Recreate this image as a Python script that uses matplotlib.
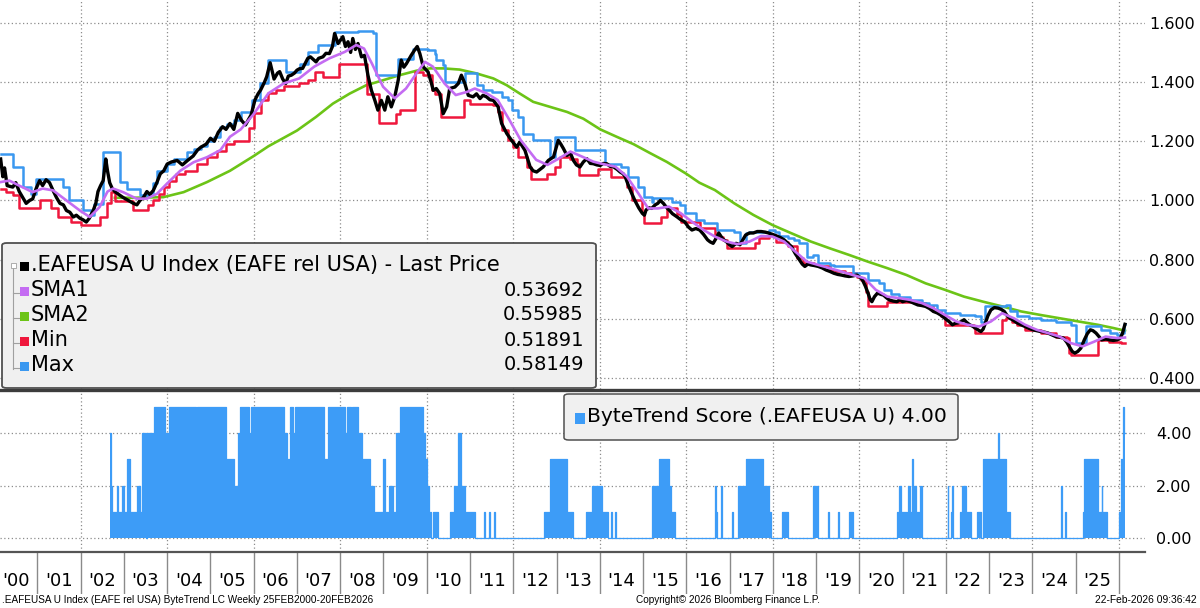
import matplotlib
matplotlib.use("Agg")
import matplotlib.pyplot as plt
from matplotlib.lines import Line2D
from matplotlib.patches import FancyBboxPatch, Rectangle

plt.rcParams['font.family'] = ['DejaVu Sans']

# ---------------- data (x = decimal year) ----------------
price_years = [2000.15, 2000.2, 2000.24, 2000.3, 2000.43, 2000.5, 2000.58, 2000.66, 2000.74, 2000.82,
    2000.89, 2000.97, 2001.05, 2001.12, 2001.2, 2001.28, 2001.36, 2001.44, 2001.52, 2001.6,
    2001.67, 2001.75, 2001.83, 2001.9, 2001.98, 2002.05, 2002.13, 2002.2, 2002.29, 2002.35,
    2002.4, 2002.46, 2002.52, 2002.58, 2002.62, 2002.67, 2002.73, 2002.79, 2002.88, 2002.98,
    2003.1, 2003.22, 2003.3, 2003.37, 2003.45, 2003.53, 2003.6, 2003.68, 2003.76, 2003.84,
    2003.92, 2004.0, 2004.1, 2004.23, 2004.35, 2004.47, 2004.6, 2004.7, 2004.78, 2004.9,
    2005.0, 2005.09, 2005.18, 2005.28, 2005.36, 2005.45, 2005.54, 2005.63, 2005.72, 2005.81,
    2005.94, 2006.03, 2006.1, 2006.16, 2006.25, 2006.3, 2006.38, 2006.42, 2006.47, 2006.55,
    2006.6, 2006.67, 2006.74, 2006.8, 2006.87, 2006.94, 2007.0, 2007.06, 2007.13, 2007.25,
    2007.31, 2007.44, 2007.5, 2007.6, 2007.67, 2007.75, 2007.82, 2007.87, 2007.95, 2008.06,
    2008.12, 2008.18, 2008.24, 2008.29, 2008.35, 2008.41, 2008.49, 2008.56, 2008.64, 2008.72,
    2008.8, 2008.87, 2008.95, 2009.03, 2009.1, 2009.18, 2009.26, 2009.34, 2009.41, 2009.47,
    2009.53, 2009.64, 2009.72, 2009.78, 2009.84, 2009.92, 2010.03, 2010.1, 2010.15, 2010.22,
    2010.3, 2010.38, 2010.46, 2010.53, 2010.65, 2010.73, 2010.8, 2010.88, 2010.96, 2011.07,
    2011.15, 2011.23, 2011.3, 2011.38, 2011.46, 2011.54, 2011.65, 2011.73, 2011.85, 2011.96,
    2012.08, 2012.15, 2012.27, 2012.39, 2012.46, 2012.54, 2012.62, 2012.69, 2012.81, 2012.93,
    2013.04, 2013.1, 2013.16, 2013.24, 2013.32, 2013.39, 2013.46, 2013.54, 2013.62, 2013.7,
    2013.78, 2013.85, 2013.93, 2014.01, 2014.08, 2014.16, 2014.24, 2014.32, 2014.4, 2014.47,
    2014.54, 2014.59, 2014.67, 2014.74, 2014.81, 2014.9, 2014.98, 2015.03, 2015.07, 2015.14,
    2015.2, 2015.28, 2015.34, 2015.4, 2015.47, 2015.55, 2015.6, 2015.68, 2015.78, 2015.87,
    2015.96, 2016.05, 2016.13, 2016.22, 2016.31, 2016.4, 2016.49, 2016.55, 2016.62, 2016.7,
    2016.75, 2016.84, 2016.93, 2017.0, 2017.06, 2017.15, 2017.24, 2017.3, 2017.37, 2017.46,
    2017.55, 2017.64, 2017.73, 2017.82, 2017.9, 2018.0, 2018.08, 2018.17, 2018.26, 2018.35,
    2018.43, 2018.52, 2018.61, 2018.68, 2018.74, 2018.81, 2018.88, 2018.96, 2019.05, 2019.14,
    2019.23, 2019.32, 2019.41, 2019.5, 2019.58, 2019.67, 2019.76, 2019.85, 2019.94, 2020.0,
    2020.07, 2020.14, 2020.2, 2020.25, 2020.29, 2020.35, 2020.42, 2020.49, 2020.56, 2020.62,
    2020.69, 2020.78, 2020.87, 2020.94, 2021.0, 2021.09, 2021.18, 2021.27, 2021.35, 2021.44,
    2021.53, 2021.62, 2021.71, 2021.8, 2021.88, 2021.95, 2022.02, 2022.08, 2022.15, 2022.22,
    2022.28, 2022.35, 2022.42, 2022.48, 2022.55, 2022.62, 2022.68, 2022.75, 2022.81, 2022.86,
    2022.9, 2022.97, 2023.04, 2023.12, 2023.21, 2023.28, 2023.35, 2023.42, 2023.48, 2023.56,
    2023.65, 2023.74, 2023.83, 2023.92, 2024.01, 2024.1, 2024.19, 2024.28, 2024.36, 2024.45,
    2024.54, 2024.63, 2024.72, 2024.8, 2024.85, 2024.92, 2024.98, 2025.05, 2025.12, 2025.2,
    2025.27, 2025.34, 2025.4, 2025.47, 2025.54, 2025.6, 2025.7, 2025.78, 2025.87, 2025.96,
    2026.03, 2026.08, 2026.14]
price_vals = [1.14, 1.08, 1.11, 1.05, 1.045, 1.06, 1.03, 1.01, 0.99, 1.0,
    1.005, 1.04, 1.067, 1.05, 1.07, 1.06, 1.034, 1.01, 0.99, 0.985,
    0.966, 0.96, 0.944, 0.95, 0.94, 0.935, 0.927, 0.94, 0.966, 0.99,
    1.03, 1.05, 1.067, 1.14, 1.10, 1.06, 1.04, 1.03, 1.02, 1.01,
    1.0, 0.99, 0.985, 1.0, 1.01, 1.03, 1.02, 1.034, 1.06, 1.09,
    1.10, 1.123, 1.13, 1.135, 1.12, 1.135, 1.15, 1.17, 1.18, 1.19,
    1.21, 1.2, 1.23, 1.249, 1.24, 1.26, 1.24, 1.294, 1.27, 1.255,
    1.289, 1.34, 1.36, 1.373, 1.40, 1.418, 1.465, 1.44, 1.41, 1.43,
    1.435, 1.41, 1.395, 1.42, 1.423, 1.43, 1.44, 1.445, 1.446, 1.48,
    1.485, 1.468, 1.48, 1.485, 1.497, 1.496, 1.52, 1.564, 1.53, 1.553,
    1.52, 1.536, 1.50, 1.547, 1.51, 1.53, 1.485, 1.49, 1.423, 1.372,
    1.338, 1.305, 1.338, 1.305, 1.35, 1.316, 1.35, 1.406, 1.474, 1.45,
    1.462, 1.49, 1.508, 1.52, 1.496, 1.451, 1.434, 1.40, 1.372, 1.378,
    1.361, 1.293, 1.316, 1.378, 1.383, 1.395, 1.423, 1.395, 1.355, 1.35,
    1.36, 1.344, 1.355, 1.35, 1.34, 1.338, 1.316, 1.26, 1.226, 1.203,
    1.18, 1.197, 1.169, 1.113, 1.10, 1.096, 1.105, 1.113, 1.135, 1.147,
    1.203, 1.19, 1.175, 1.152, 1.16, 1.135, 1.12, 1.113, 1.13, 1.141,
    1.125, 1.124, 1.12, 1.118, 1.125, 1.124, 1.115, 1.113, 1.105, 1.096,
    1.09, 1.079, 1.047, 1.023, 1.0, 0.975, 0.957, 0.95, 0.968, 0.975,
    0.973, 0.985, 0.99, 1.0, 0.99, 0.975, 0.968, 0.955, 0.945, 0.935,
    0.928, 0.91, 0.9, 0.905, 0.9, 0.885, 0.867, 0.86, 0.855, 0.875,
    0.89, 0.87, 0.86, 0.85, 0.844, 0.855, 0.85, 0.865, 0.883, 0.89,
    0.89, 0.895, 0.895, 0.893, 0.89, 0.885, 0.88, 0.875, 0.867, 0.855,
    0.844, 0.82, 0.8, 0.785, 0.777, 0.785, 0.782, 0.78, 0.777, 0.772,
    0.765, 0.76, 0.754, 0.75, 0.748, 0.745, 0.743, 0.745, 0.748, 0.742,
    0.732, 0.71, 0.687, 0.665, 0.658, 0.675, 0.687, 0.683, 0.68, 0.672,
    0.664, 0.66, 0.658, 0.665, 0.658, 0.662, 0.658, 0.652, 0.647, 0.645,
    0.642, 0.635, 0.625, 0.62, 0.613, 0.605, 0.597, 0.59, 0.58, 0.585,
    0.586, 0.59, 0.597, 0.588, 0.58, 0.575, 0.569, 0.562, 0.557, 0.565,
    0.58, 0.61, 0.63, 0.638, 0.636, 0.632, 0.625, 0.61, 0.602, 0.595,
    0.586, 0.58, 0.574, 0.568, 0.563, 0.56, 0.557, 0.555, 0.552, 0.546,
    0.54, 0.538, 0.535, 0.52, 0.507, 0.49, 0.484, 0.49, 0.501, 0.529,
    0.55, 0.563, 0.56, 0.552, 0.54, 0.529, 0.532, 0.529, 0.527, 0.529,
    0.535, 0.55, 0.5815]

sma1_years = [2000.15, 2000.35, 2000.58, 2000.89, 2001.12, 2001.36, 2001.67, 2001.98, 2002.21, 2002.44,
    2002.62, 2002.75, 2002.98, 2003.29, 2003.53, 2003.76, 2003.99, 2004.3, 2004.61, 2004.92,
    2005.23, 2005.45, 2005.7, 2005.99, 2006.34, 2006.69, 2007.05, 2007.4, 2007.75, 2008.11,
    2008.37, 2008.55, 2008.73, 2008.99, 2009.26, 2009.52, 2009.79, 2009.96, 2010.14, 2010.41,
    2010.67, 2010.94, 2011.11, 2011.38, 2011.64, 2011.91, 2012.17, 2012.53, 2012.79, 2013.06,
    2013.32, 2013.59, 2013.85, 2014.01, 2014.36, 2014.63, 2014.89, 2015.12, 2015.34, 2015.6,
    2015.87, 2016.13, 2016.4, 2016.66, 2016.93, 2017.19, 2017.46, 2017.73, 2017.99, 2018.26,
    2018.52, 2018.79, 2019.05, 2019.32, 2019.58, 2019.85, 2020.12, 2020.38, 2020.65, 2020.92,
    2021.18, 2021.45, 2021.71, 2021.98, 2022.24, 2022.5, 2022.77, 2023.04, 2023.3, 2023.57,
    2023.83, 2024.1, 2024.36, 2024.63, 2024.89, 2025.16, 2025.43, 2025.69, 2025.96, 2026.14]
sma1_vals = [1.062, 1.067, 1.05, 1.028, 1.04, 1.034, 1.0, 0.966, 0.944, 0.978,
    1.03, 1.04, 1.028, 1.006, 1.006, 1.022, 1.056, 1.1, 1.129, 1.146,
    1.17, 1.215, 1.24, 1.29, 1.362, 1.395, 1.412, 1.452, 1.48, 1.502,
    1.525, 1.513, 1.463, 1.384, 1.345, 1.378, 1.435, 1.468, 1.452, 1.395,
    1.356, 1.367, 1.378, 1.362, 1.339, 1.272, 1.204, 1.137, 1.12, 1.142,
    1.165, 1.148, 1.131, 1.125, 1.114, 1.08, 1.024, 0.973, 0.973, 0.979,
    0.957, 0.928, 0.9, 0.878, 0.861, 0.852, 0.861, 0.88, 0.878, 0.861,
    0.827, 0.793, 0.782, 0.771, 0.76, 0.748, 0.737, 0.698, 0.675, 0.67,
    0.664, 0.653, 0.636, 0.613, 0.591, 0.58, 0.574, 0.591, 0.619, 0.602,
    0.58, 0.563, 0.552, 0.54, 0.518, 0.507, 0.523, 0.54, 0.535, 0.53692]

sma2_years = [2002.79, 2003.22, 2003.91, 2004.38, 2004.92, 2005.45, 2006.0, 2006.34, 2007.0, 2007.44,
    2007.83, 2008.22, 2008.6, 2008.99, 2009.37, 2009.76, 2010.07, 2010.38, 2010.76, 2011.15,
    2011.54, 2011.85, 2012.15, 2012.46, 2012.85, 2013.24, 2013.62, 2014.01, 2014.39, 2014.78,
    2015.16, 2015.55, 2016.0, 2016.3, 2016.66, 2017.11, 2017.55, 2017.99, 2018.43, 2018.88,
    2019.32, 2019.76, 2020.2, 2020.65, 2021.09, 2021.53, 2021.98, 2022.42, 2022.86, 2023.3,
    2023.74, 2024.19, 2024.63, 2025.07, 2025.51, 2025.87, 2026.14]
sma2_vals = [1.009, 1.009, 1.011, 1.028, 1.062, 1.10, 1.15, 1.183, 1.236, 1.282,
    1.327, 1.361, 1.389, 1.406, 1.423, 1.438, 1.446, 1.446, 1.442, 1.429,
    1.412, 1.389, 1.361, 1.333, 1.316, 1.299, 1.276, 1.24, 1.215, 1.19,
    1.16, 1.13, 1.09, 1.06, 1.035, 0.99, 0.951, 0.917, 0.889, 0.861,
    0.838, 0.816, 0.793, 0.771, 0.748, 0.72, 0.698, 0.675, 0.658, 0.642,
    0.625, 0.613, 0.602, 0.591, 0.58, 0.569, 0.55985]

min_years = [2000.15, 2000.28, 2000.43, 2000.58, 2001.05, 2001.32, 2001.47, 2001.78, 2002.0, 2002.45,
    2002.6, 2002.7, 2002.8, 2003.22, 2003.55, 2003.68, 2003.8, 2003.92, 2004.05, 2004.2,
    2004.4, 2004.7, 2004.92, 2005.15, 2005.35, 2005.55, 2005.9, 2006.0, 2006.16, 2006.34,
    2006.52, 2006.69, 2007.05, 2007.25, 2007.41, 2007.6, 2007.98, 2008.62, 2008.9, 2009.3,
    2009.37, 2009.72, 2009.92, 2010.11, 2010.2, 2010.34, 2010.86, 2011.0, 2011.54, 2011.65,
    2011.73, 2011.88, 2012.0, 2012.12, 2012.31, 2012.42, 2012.79, 2012.97, 2013.08, 2013.3,
    2013.47, 2013.51, 2013.95, 2014.26, 2014.62, 2014.75, 2014.98, 2015.03, 2015.42, 2015.56,
    2015.78, 2015.87, 2016.31, 2016.66, 2016.84, 2016.93, 2017.59, 2017.68, 2017.9, 2018.08,
    2018.35, 2018.57, 2018.7, 2018.96, 2019.05, 2019.32, 2019.45, 2019.67, 2019.94, 2020.03,
    2020.16, 2020.2, 2020.65, 2021.27, 2021.53, 2021.71, 2021.88, 2021.97, 2022.64, 2022.68,
    2023.3, 2023.39, 2023.52, 2023.65, 2023.83, 2024.19, 2024.54, 2024.81, 2024.85, 2024.89,
    2025.51, 2025.78, 2026.04, 2026.14]
min_vals = [1.04, 1.03, 1.018, 0.975, 1.0, 0.975, 0.944, 0.927, 0.916, 0.944,
    0.99, 1.028, 0.998, 0.966, 0.984, 1.0, 1.022, 1.045, 1.067, 1.09,
    1.1, 1.123, 1.146, 1.168, 1.19, 1.2, 1.243, 1.294, 1.34, 1.362,
    1.373, 1.387, 1.395, 1.406, 1.434, 1.417, 1.462, 1.361, 1.26, 1.293,
    1.305, 1.434, 1.423, 1.372, 1.361, 1.282, 1.338, 1.327, 1.322, 1.30,
    1.237, 1.203, 1.181, 1.147, 1.113, 1.073, 1.09, 1.113, 1.147, 1.141,
    1.124, 1.085, 1.107, 1.079, 1.045, 1.0, 0.957, 0.923, 0.945, 0.973,
    0.955, 0.928, 0.906, 0.878, 0.867, 0.838, 0.855, 0.872, 0.883, 0.86,
    0.845, 0.805, 0.788, 0.782, 0.777, 0.765, 0.76, 0.754, 0.743, 0.732,
    0.69, 0.642, 0.658, 0.653, 0.642, 0.625, 0.608, 0.58, 0.569, 0.552,
    0.597, 0.603, 0.591, 0.58, 0.563, 0.552, 0.54, 0.535, 0.484, 0.478,
    0.529, 0.523, 0.51891, 0.51891]

max_years = [2000.15, 2000.43, 2000.66, 2000.85, 2000.97, 2001.59, 2001.74, 2002.05, 2002.25, 2002.3,
    2002.52, 2002.91, 2003.06, 2003.37, 2003.68, 2003.76, 2003.99, 2004.15, 2004.46, 2004.61,
    2004.77, 2004.92, 2005.08, 2005.23, 2005.39, 2005.54, 2005.7, 2005.95, 2006.15, 2006.34,
    2006.74, 2007.06, 2007.25, 2007.48, 2007.87, 2008.41, 2008.76, 2008.83, 2009.34, 2009.68,
    2010.03, 2010.19, 2010.22, 2010.38, 2010.42, 2010.88, 2011.15, 2011.3, 2011.5, 2011.73,
    2011.88, 2011.96, 2012.12, 2012.23, 2012.46, 2012.85, 2012.97, 2013.43, 2014.12, 2014.5,
    2014.65, 2014.89, 2015.02, 2015.2, 2015.24, 2015.67, 2015.85, 2015.98, 2016.22, 2016.4,
    2016.71, 2017.1, 2017.24, 2017.37, 2017.46, 2017.9, 2018.05, 2018.15, 2018.35, 2018.49,
    2018.61, 2018.79, 2018.92, 2019.05, 2019.32, 2019.41, 2019.85, 2020.2, 2020.45, 2020.56,
    2020.74, 2020.91, 2021.18, 2021.45, 2021.62, 2021.8, 2021.97, 2022.33, 2022.68, 2022.81,
    2022.9, 2023.39, 2023.48, 2023.65, 2023.92, 2024.19, 2024.54, 2024.9, 2025.0, 2025.15,
    2025.25, 2025.58, 2025.8, 2025.95, 2026.05, 2026.12, 2026.14]
max_vals = [1.157, 1.112, 1.045, 1.022, 1.073, 1.045, 1.0, 0.966, 0.95, 0.989,
    1.163, 1.062, 1.039, 1.017, 1.06, 1.101, 1.124, 1.14, 1.163, 1.174,
    1.185, 1.202, 1.213, 1.247, 1.258, 1.27, 1.30, 1.34, 1.395, 1.476,
    1.435, 1.462, 1.502, 1.524, 1.57, 1.573, 1.564, 1.423, 1.479, 1.513,
    1.508, 1.496, 1.474, 1.457, 1.4, 1.429, 1.389, 1.372, 1.367, 1.35,
    1.338, 1.305, 1.282, 1.226, 1.203, 1.147, 1.214, 1.169, 1.124, 1.113,
    1.079, 1.047, 1.013, 0.996, 1.007, 0.996, 0.985, 0.957, 0.934, 0.923,
    0.9, 0.893, 0.855, 0.889, 0.895, 0.9, 0.895, 0.88, 0.872, 0.866,
    0.855, 0.81, 0.815, 0.788, 0.782, 0.777, 0.754, 0.732, 0.72, 0.698,
    0.684, 0.675, 0.664, 0.653, 0.647, 0.63, 0.619, 0.613, 0.608, 0.591,
    0.642, 0.647, 0.625, 0.608, 0.602, 0.597, 0.591, 0.58, 0.518, 0.52,
    0.575, 0.563, 0.552, 0.546, 0.552, 0.58149, 0.58149]

score_years = [2002.67, 2002.7, 2002.73, 2002.83, 2002.87, 2002.96, 2003.0, 2003.06, 2003.14, 2003.3,
    2003.36, 2003.42, 2003.51, 2003.54, 2003.69, 2003.95, 2004.04, 2004.66, 2004.7, 2005.37,
    2005.54, 2005.63, 2005.68, 2005.9, 2005.94, 2006.69, 2006.78, 2006.85, 2006.91, 2006.96,
    2007.62, 2007.71, 2008.11, 2008.15, 2008.24, 2008.28, 2008.42, 2008.51, 2008.68, 2008.77,
    2008.99, 2009.04, 2009.12, 2009.21, 2009.3, 2009.39, 2009.92, 2009.96, 2010.01, 2010.05,
    2010.1, 2010.14, 2010.27, 2010.54, 2010.63, 2010.72, 2010.8, 2010.89, 2011.11, 2011.33,
    2011.35, 2011.45, 2011.47, 2011.56, 2011.58, 2012.7, 2012.84, 2013.24, 2013.37, 2013.68,
    2013.81, 2014.05, 2014.19, 2014.27, 2014.29, 2014.36, 2014.38, 2015.2, 2015.38, 2015.6,
    2015.65, 2015.73, 2016.66, 2016.68, 2016.71, 2016.8, 2016.82, 2017.06, 2017.08, 2017.19,
    2017.37, 2017.77, 2017.9, 2017.95, 2018.21, 2018.35, 2018.92, 2019.05, 2019.27, 2019.29,
    2019.5, 2019.52, 2019.76, 2019.85, 2020.87, 2020.91, 2020.96, 2021.09, 2021.13, 2021.18,
    2021.22, 2021.24, 2021.31, 2021.4, 2021.44, 2022.04, 2022.06, 2022.11, 2022.15, 2022.17,
    2022.33, 2022.37, 2022.46, 2022.59, 2022.73, 2022.81, 2022.86, 2023.21, 2023.23, 2023.39,
    2023.48, 2024.67, 2024.69, 2024.76, 2024.78, 2025.16, 2025.2, 2025.51, 2025.6, 2025.62,
    2025.73, 2026.0, 2026.04, 2026.1, 2026.12, 2026.14]
score_vals = [4, 2, 1, 2, 1, 2, 1, 3, 1, 2,
    1, 4, 0, 4, 5, 4, 5, 4, 5, 3,
    2, 4, 5, 4, 5, 4, 3, 5, 4, 5,
    3, 5, 4, 5, 3, 5, 4, 3, 2, 1,
    3, 1, 2, 1, 4, 5, 4, 3, 2, 1,
    0, 1, 0, 1, 2, 4, 2, 1, 0, 1,
    0, 1, 0, 1, 0, 1, 3, 1, 0, 1,
    2, 1, 0, 1, 0, 1, 0, 2, 3, 2,
    1, 0, 2, 1, 0, 2, 0, 1, 0, 2,
    3, 2, 1, 0, 1, 0, 2, 0, 1, 0,
    1, 0, 1, 0, 1, 2, 1, 0, 2, 1,
    3, 2, 1, 2, 0, 2, 0, 1, 2, 0,
    1, 2, 1, 0, 1, 0, 3, 4, 3, 1,
    0, 2, 0, 1, 0, 1, 3, 1, 2, 1,
    0, 1, 3, 5, 4, 4]

year_labels = ["'00", "'01", "'02", "'03", "'04", "'05", "'06", "'07", "'08", "'09", "'10", "'11", "'12",
               "'13", "'14", "'15", "'16", "'17", "'18", "'19", "'20", "'21", "'22", "'23", "'24", "'25"]
price_ticks = [0.4, 0.6, 0.8, 1.0, 1.2, 1.4, 1.6]
score_ticks = [0, 2, 4]

legend_names = [".EAFEUSA U Index (EAFE rel USA) - Last Price", "SMA1", "SMA2", "Min", "Max"]
legend_values = ["", "0.53692", "0.55985", "0.51891", "0.58149"]
score_legend = "ByteTrend Score (.EAFEUSA U) 4.00"

# ---------------- styling ----------------
C_PRICE = "#000000"
C_SMA1 = "#c46cf2"
C_SMA2 = "#6cc417"
C_MIN = "#ef173c"
C_MAX = "#3a98f0"
C_SCORE = "#3d9cf7"
GRID = dict(color="#8c8c8c", linestyle=(0, (1, 2)), linewidth=0.9)
FOOT = ["Liberation Sans", "DejaVu Sans"]

W, H = 1200, 608
fig = plt.figure(figsize=(W / 100, H / 100), dpi=100)
fig.patch.set_facecolor("white")

def fy(py):
    return 1 - py / H

PLOT_R = 1145
XMIN, XMAX = 2000.135, 2000.135 + PLOT_R / 43.26

ax = fig.add_axes([0, fy(389), PLOT_R / W, 389 / H])
axb = fig.add_axes([0, fy(552), PLOT_R / W, (552 - 391) / H])
axy = fig.add_axes([0, fy(594), PLOT_R / W, 42 / H])

for a in (ax, axb, axy):
    a.set_xlim(XMIN, XMAX)
    for s in a.spines.values():
        s.set_visible(False)
    a.set_xticks([])
    a.patch.set_alpha(0)

# ---- top panel ----
ax.set_ylim(0.363, 1.677)
for yv in price_ticks:
    ax.axhline(yv, zorder=0, **GRID)
for yr in range(2002, 2027, 2):
    ax.axvline(yr, zorder=0, **GRID)
ax.plot(sma2_years, sma2_vals, color=C_SMA2, lw=1.9, zorder=2)
ax.step(min_years, min_vals, where="post", color=C_MIN, lw=1.8, zorder=3)
ax.step(max_years, max_vals, where="post", color=C_MAX, lw=1.8, zorder=3)
ax.plot(price_years, price_vals, color=C_PRICE, lw=2.4, zorder=4)
ax.plot(sma1_years, sma1_vals, color=C_SMA1, lw=1.9, zorder=5)
ax.yaxis.tick_right()
ax.set_yticks(price_ticks)
ax.set_yticklabels(["%.3f" % v for v in price_ticks], fontsize=11.5)
ax.tick_params(axis="y", length=0, pad=3)

# ---- bottom panel ----
axb.set_ylim(-0.533, 5.6)
for yv in score_ticks:
    axb.axhline(yv, zorder=0, **GRID)
for yr in range(2002, 2027, 2):
    axb.axvline(yr, zorder=0, **GRID)
axb.fill_between(score_years, 0, score_vals, step="post", color=C_SCORE, lw=0, zorder=2)
axb.step(score_years, score_vals, where="post", color=C_SCORE, lw=0.9, zorder=3)
axb.yaxis.tick_right()
axb.set_yticks(score_ticks)
axb.set_yticklabels(["%.2f" % v for v in score_ticks], fontsize=11.5)
axb.tick_params(axis="y", length=0, pad=8)

# ---- year axis ----
axy.set_ylim(0, 1)
axy.set_yticks([])
for i, lab in enumerate(year_labels):
    yr = 2000 + i
    axy.text(yr + 0.5, 0.3, lab, ha="center", va="center", fontsize=13)
    axy.axvline(yr + 1, ymin=0, ymax=1, color="#8a8a8a", lw=1)

# ---- separator lines ----
fig.add_artist(Line2D([0, 1], [fy(389.5), fy(389.5)], color="#3c3c3c", lw=2.4))
fig.add_artist(Line2D([0, PLOT_R / W], [fy(552), fy(552)], color="#555555", lw=1.6))

# ---- top legend box ----
box = FancyBboxPatch((2 / W, fy(388)), 594 / W, (388 - 243) / H,
                     boxstyle="round,pad=0,rounding_size=0.004",
                     transform=fig.transFigure, facecolor="#f0f0f0",
                     edgecolor="#505050", lw=1.3, zorder=10)
fig.add_artist(box)
rows_y = [265, 290, 315, 340, 365]
row_cols = [C_PRICE, C_SMA1, C_SMA2, C_MIN, C_MAX]
fig.add_artist(Line2D([13 / W, 13 / W], [fy(268), fy(369)], color="#a0a0a0", lw=0.8, zorder=11))
fig.add_artist(Rectangle((10.5 / W, fy(268)), 5 / W, 5 / H, transform=fig.transFigure,
                         facecolor="white", edgecolor="#a0a0a0", lw=0.6, zorder=12))
for ry, name, val, col in zip(rows_y, legend_names, legend_values, row_cols):
    if ry != rows_y[0]:
        fig.add_artist(Line2D([13 / W, 19 / W], [fy(ry + 3), fy(ry + 3)], color="#a0a0a0", lw=0.8, zorder=11))
    fig.add_artist(Rectangle((20 / W, fy(ry + 6)), 9 / W, 9 / H, transform=fig.transFigure,
                             facecolor=col, edgecolor="none", zorder=12))
    fig.text(31 / W, fy(ry), name, ha="left", va="center", fontsize=15, zorder=13)
    if val:
        fig.text(584 / W, fy(ry), val, ha="right", va="center", fontsize=14, zorder=13)

# ---- bottom legend box ----
box2 = FancyBboxPatch((564 / W, fy(440)), 394 / W, 46 / H,
                      boxstyle="round,pad=0,rounding_size=0.004",
                      transform=fig.transFigure, facecolor="#f0f0f0",
                      edgecolor="#505050", lw=1.1, zorder=10)
fig.add_artist(box2)
fig.add_artist(Rectangle((575 / W, fy(424)), 10 / W, 11 / H, transform=fig.transFigure,
                         facecolor=C_SCORE, edgecolor="none", zorder=12))
fig.text(587 / W, fy(417), score_legend, ha="left", va="center", fontsize=14.6, zorder=13)

# ---- footer ----
fig.text(2 / W, fy(600), ".EAFEUSA U Index (EAFE rel USA) ByteTrend LC Weekly 25FEB2000-20FEB2026",
         ha="left", va="center", fontsize=7.2, family=FOOT)
fig.text(728 / W, fy(600), "Copyright\u00a9 2026 Bloomberg Finance L.P.",
         ha="center", va="center", fontsize=7.2, family=FOOT)
fig.text(1197 / W, fy(600), "22-Feb-2026 09:36:42",
         ha="right", va="center", fontsize=7.4, family=FOOT)

fig.savefig("out.png", dpi=100, facecolor="white")
